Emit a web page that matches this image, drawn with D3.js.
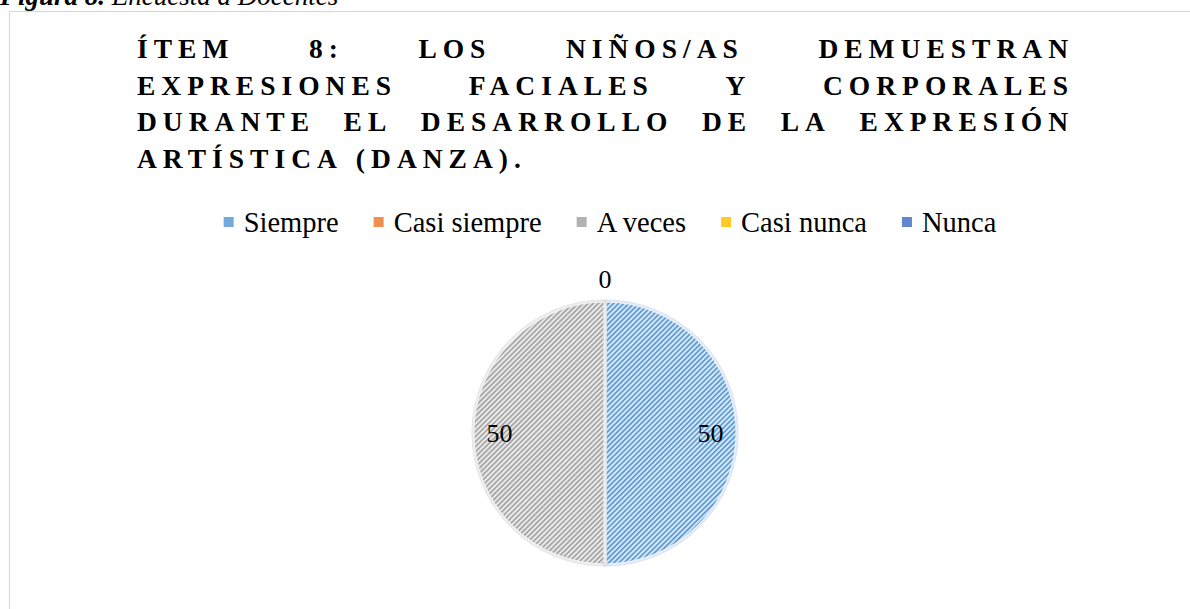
<!DOCTYPE html>
<html>
<head>
<meta charset="utf-8">
<script src="https://cdn.jsdelivr.net/npm/d3@7"></script>
<style>
  body { margin: 0; background: #fff; }
  svg text { font-family: "Liberation Serif", "DejaVu Serif", serif; }
</style>
</head>
<body>
<svg id="mainSvg" width="1190" height="609"></svg>
<script>
// Chart data
var categories = ["Siempre", "Casi siempre", "A veces", "Casi nunca", "Nunca"];
var values = [50, 0, 50, 0, 0];
var lineColors = ["#5b9bd5", "#ed7d31", "#a5a5a5", "#ffc000", "#4472c4"];
var bgColors = ["#dbe9f7", "#fbe5d6", "#ebebeb", "#fff2cc", "#dae3f3"];
var titleLines = ["ÍTEM 8: LOS NIÑOS/AS DEMUESTRAN",
                  "EXPRESIONES FACIALES Y CORPORALES",
                  "DURANTE EL DESARROLLO DE LA EXPRESIÓN",
                  "ARTÍSTICA (DANZA)."];

var serif = "'Liberation Serif', 'DejaVu Serif', serif";
var svg = d3.select("#mainSvg");
var defs = svg.append("defs");

// Hatch pattern + inner edge shadow for each category
categories.forEach(function (c, i) {
    var p = defs.append("pattern").attr("id", "hatch" + i)
        .attr("patternUnits", "userSpaceOnUse")
        .attr("width", 3.6).attr("height", 3.6)
        .attr("patternTransform", "rotate(45)");
    p.append("rect").attr("width", 3.6).attr("height", 3.6).attr("fill", bgColors[i]);
    p.append("rect").attr("width", 1.7).attr("height", 3.6).attr("fill", lineColors[i]);

    var f = defs.append("filter").attr("id", "inner" + i)
        .attr("x", "-10%").attr("y", "-10%").attr("width", "120%").attr("height", "120%");
    f.append("feComponentTransfer").attr("in", "SourceAlpha").attr("result", "inv")
        .append("feFuncA").attr("type", "table").attr("tableValues", "1 0");
    f.append("feGaussianBlur").attr("in", "inv").attr("stdDeviation", 3.5).attr("result", "blur");
    f.append("feFlood").attr("flood-color", lineColors[i]).attr("flood-opacity", 0.75).attr("result", "col");
    f.append("feComposite").attr("in", "col").attr("in2", "blur").attr("operator", "in").attr("result", "sh");
    f.append("feComposite").attr("in", "sh").attr("in2", "SourceAlpha").attr("operator", "in").attr("result", "sh2");
    var m = f.append("feMerge");
    m.append("feMergeNode").attr("in", "SourceGraphic");
    m.append("feMergeNode").attr("in", "sh2");
});

// Caption above the chart frame (partly cut off, as in the source)
var cap = svg.append("text").attr("x", 0).attr("y", 5)
    .style("font-family", serif).style("font-size", "27px").style("font-style", "italic");
cap.append("tspan").style("font-weight", "bold").text("Figura 8.");
cap.append("tspan").text(" Encuesta a Docentes");

// Chart frame
svg.append("rect").attr("x", 9.5).attr("y", 11.5).attr("width", 1300).attr("height", 700)
    .attr("fill", "none").attr("stroke", "#d9d9d9").attr("stroke-width", 1.2);

// Title, justified between left and right edges
var titleLeft = 137, titleRight = 1068, titleTop = 58, titleStep = 36.5, spacing = 6;
var title = svg.append("g").style("font-family", serif).style("font-size", "27.5px")
    .style("font-weight", "bold").style("letter-spacing", spacing + "px").attr("fill", "#000");
titleLines.forEach(function (line, li) {
    var words = line.split(" ");
    var y = titleTop + li * titleStep;
    var nodes = words.map(function (w) {
        return title.append("text").attr("y", y).text(w);
    });
    var widths = nodes.map(function (n) { return n.node().getComputedTextLength(); });
    var total = d3.sum(widths);
    var last = li === titleLines.length - 1;
    var gap = last ? 13 : (titleRight - titleLeft - total + spacing) / (words.length - 1);
    var x = titleLeft;
    nodes.forEach(function (n, k) {
        n.attr("x", x);
        x += widths[k] + gap;
    });
});

// Legend
var legend = svg.append("g").style("font-family", serif).style("font-size", "28.5px");
var items = legend.selectAll("g").data(categories).enter().append("g");
items.append("rect").attr("width", 10).attr("height", 10).attr("y", -6)
    .attr("fill", function (d, i) { return lineColors[i]; }).attr("opacity", 0.85);
items.append("text").attr("x", 20).attr("y", 0).attr("dy", "0.3em").text(function (d) { return d; });
var lx = 0;
items.each(function () {
    var g = d3.select(this);
    g.attr("transform", "translate(" + lx + ",0)");
    lx += 20 + g.select("text").node().getComputedTextLength() + 35;
});
lx -= 35;
legend.attr("transform", "translate(" + (610 - lx / 2) + ",223)");

// Pie
var cx = 605, cy = 433, r = 132;
var pie = d3.pie().sort(null).value(function (d) { return d; });
var arcs = pie(values);
var arc = d3.arc().innerRadius(0).outerRadius(r);
var g = svg.append("g").attr("transform", "translate(" + cx + "," + cy + ")");
g.selectAll("path").data(arcs).enter().append("path")
    .attr("d", arc)
    .attr("fill", function (d, i) { return "url(#hatch" + i + ")"; })
    .attr("filter", function (d, i) { return "url(#inner" + i + ")"; })
    .attr("stroke", "#fff").attr("stroke-width", 3);

// Data labels: inside for non-zero slices, outside for the zero slices at the top
var inArc = d3.arc().innerRadius(r * 0.8).outerRadius(r * 0.8);
var outArc = d3.arc().innerRadius(r + 13).outerRadius(r + 13);
var shown = arcs.filter(function (d, i) { return d.value > 0 || i === arcs.length - 1; });
g.selectAll(".lbl").data(shown).enter().append("text").attr("class", "lbl")
    .attr("transform", function (d) {
        var c = d.value > 0 ? inArc.centroid(d) : outArc.centroid(d);
        return "translate(" + c[0] + "," + c[1] + ")";
    })
    .attr("text-anchor", "middle")
    .attr("dy", function (d) { return d.value > 0 ? "0.35em" : "0em"; })
    .style("font-family", serif).style("font-size", "26px")
    .text(function (d) { return d.value; });
</script>
</body>
</html>
